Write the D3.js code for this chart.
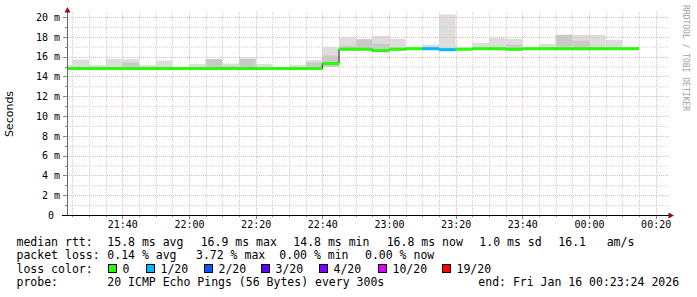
<!DOCTYPE html>
<html>
<head>
<meta charset="utf-8">
<script src="https://cdn.jsdelivr.net/npm/d3@7"></script>
<style>
body { margin: 0; background: #fff; }
text { font-family: "DejaVu Sans Mono", monospace; }
</style>
</head>
<body>
<div id="vis"></div>
<script>
/* 5 minute slots (start time) */
var slots = ["21:20","21:25","21:30","21:35","21:40","21:45","21:50","21:55",
             "22:00","22:05","22:10","22:15","22:20","22:25","22:30","22:35",
             "22:40","22:45","22:50","22:55","23:00","23:05","23:10","23:15",
             "23:20","23:25","23:30","23:35","23:40","23:45","23:50","23:55",
             "00:00","00:05","00:10"];
/* median rtt, ms */
var median = [14.8,14.8,14.8,14.8,14.8,14.8,14.8,14.8,
              14.8,14.8,14.8,14.8,14.8,14.8,14.8,14.8,
              15.3,16.75,16.75,16.6,16.75,16.8,16.8,16.7,
              16.75,16.8,16.8,16.75,16.8,16.8,16.8,16.8,
              16.8,16.8,16.8];
/* smoke: lowest, highest and dense-part top, ms (0 = no dense part) */
var smokeLo = [14.65,14.65,14.65,14.65,14.65,14.65,14.65,14.65,
               14.65,14.65,14.65,14.65,14.65,14.65,14.65,14.65,
               14.95,16.6,16.6,16.45,16.6,16.65,16.65,16.55,
               16.6,16.65,16.65,16.6,16.65,16.65,16.65,16.65,
               16.65,16.65,16.65];
var smokeHi = [15.15,15.7,15.15,15.75,15.75,15.15,15.6,14.9,
               15.25,15.75,15.3,15.8,15.25,14.95,15.15,15.65,
               16.95,17.95,17.75,18.1,17.8,16.95,17.2,20.25,
               16.9,17.4,17.9,17.8,16.9,17.3,18.2,18.2,
               18.2,17.7,16.9];
var smokeMid = [0,0,0,0,15.4,0,0,0,
                0,15.75,15.05,15.8,0,0,0,15.4,
                16.1,17.1,17.75,17.3,16.9,0,0,0,
                0,0,17.0,17.2,0,0,18.2,17.6,
                17.0,0,0];
/* loss bucket per slot */
var lossIdx = [0,0,0,0,0,0,0,0,0,0,0,0,0,0,0,0,
               0,0,0,0,0,0,1,1,0,0,0,0,0,0,0,0,0,0,0];

var lossLabels = ["0","1/20","2/20","3/20","4/20","10/20","19/20"];
var lossColors = ["#26ff00","#00b8ff","#0059ff","#5e00ff","#7e00ff","#dd00ff","#ff0000"];
var yTicks = [0,2,4,6,8,10,12,14,16,18,20];
var yMinor = [1,3,5,7,9,11,13,15,17,19];

var rttStats = ["15.8 ms avg","16.9 ms max","14.8 ms min","16.8 ms now","1.0 ms sd","16.1","am/s"];
var lossStats = ["0.14 % avg","3.72 % max","0.00 % min","0.00 % now"];
var probeText = "20 ICMP Echo Pings (56 Bytes) every 300s";
var endText = "end: Fri Jan 16 00:23:24 2026";

var W = 697, H = 297;
var t0 = new Date(2026, 0, 15, 21, 23, 24),
    t1 = new Date(2026, 0, 16, 0, 23, 24);

function parseSlot(s) {
    var p = s.split(":").map(Number);
    return p[0] < 12 ? new Date(2026, 0, 16, p[0], p[1]) : new Date(2026, 0, 15, p[0], p[1]);
}
var data = slots.map(function (s, i) {
    var a = parseSlot(s);
    return { t: a, t2: new Date(+a + 300000), med: median[i], lo: smokeLo[i],
             hi: smokeHi[i], mid: smokeMid[i], loss: lossIdx[i] };
});

var x = d3.scaleTime().domain([t0, t1]).range([67, 667]);
var y = d3.scaleLinear().domain([0, 20]).range([215, 17]);

var svg = d3.select("#vis").append("svg").attr("width", W).attr("height", H);

svg.append("defs").append("clipPath").attr("id", "plot")
    .append("rect").attr("x", 67).attr("y", 10).attr("width", 600).attr("height", 206);

/* smoke */
var smoke = svg.append("g").attr("clip-path", "url(#plot)");
smoke.selectAll("rect.light").data(data).enter().append("rect")
    .attr("x", function (d) { return x(d.t); })
    .attr("width", function (d) { return x(d.t2) - x(d.t); })
    .attr("y", function (d) { return y(d.hi); })
    .attr("height", function (d) { return y(d.lo) - y(d.hi); })
    .attr("fill", "#dddddd");
smoke.selectAll("rect.dark").data(data.filter(function (d) { return d.mid > 0; })).enter().append("rect")
    .attr("x", function (d) { return x(d.t); })
    .attr("width", function (d) { return x(d.t2) - x(d.t); })
    .attr("y", function (d) { return y(d.mid); })
    .attr("height", function (d) { return y(d.lo) - y(d.mid); })
    .attr("fill", "#c9c9c9");

/* grid */
var grid = svg.append("g").attr("fill", "none");
var xMajor = x.ticks(d3.timeMinute.every(20));
var xMinor = x.ticks(d3.timeMinute.every(5)).filter(function (d) { return d.getMinutes() % 20 !== 0; });
grid.selectAll("line.hmin").data(yMinor).enter().append("line")
    .attr("x1", 67).attr("x2", 669).attr("y1", function (d) { return y(d) + 0.5; }).attr("y2", function (d) { return y(d) + 0.5; })
    .attr("stroke", "#d2d2d2").attr("stroke-dasharray", "1,1");
grid.selectAll("line.vmin").data(xMinor).enter().append("line")
    .attr("x1", function (d) { return Math.round(x(d)) + 0.5; }).attr("x2", function (d) { return Math.round(x(d)) + 0.5; })
    .attr("y1", 12).attr("y2", 215)
    .attr("stroke", "#d2d2d2").attr("stroke-dasharray", "1,1");
grid.selectAll("line.hmaj").data(yTicks.slice(1)).enter().append("line")
    .attr("x1", 67).attr("x2", 669).attr("y1", function (d) { return Math.round(y(d)) + 0.5; }).attr("y2", function (d) { return Math.round(y(d)) + 0.5; })
    .attr("stroke", "#ecb8b8").attr("stroke-dasharray", "1,1");
grid.selectAll("line.vmaj").data(xMajor).enter().append("line")
    .attr("x1", function (d) { return Math.round(x(d)) + 0.5; }).attr("x2", function (d) { return Math.round(x(d)) + 0.5; })
    .attr("y1", 12).attr("y2", 215)
    .attr("stroke", "#ecb8b8").attr("stroke-dasharray", "1,1");

/* median: thin dark step line, then loss coloured segments */
var clipG = svg.append("g").attr("clip-path", "url(#plot)");
clipG.append("path").datum(data.concat([{ t: data[data.length - 1].t2, med: data[data.length - 1].med }]))
    .attr("d", d3.line().curve(d3.curveStepAfter).x(function (d) { return x(d.t); }).y(function (d) { return y(d.med); }))
    .attr("fill", "none").attr("stroke", "#202020").attr("stroke-width", 1);
clipG.selectAll("line.med").data(data).enter().append("line")
    .attr("x1", function (d) { return x(d.t); })
    .attr("x2", function (d) { return x(d.t2); })
    .attr("y1", function (d) { return y(d.med); })
    .attr("y2", function (d) { return y(d.med); })
    .attr("stroke", function (d) { return lossColors[d.loss]; })
    .attr("stroke-width", 3);

/* axes */
var yAxis = svg.append("g").attr("transform", "translate(67,0)")
    .call(d3.axisLeft(y).tickValues(yTicks).tickSize(0).tickPadding(7)
        .tickFormat(function (d) { return d === 0 ? "0" : d + " m"; }));
yAxis.select(".domain").remove();
yAxis.selectAll("text").attr("font-family", "DejaVu Sans Mono").attr("font-size", "10px").attr("fill", "#000");
yAxis.selectAll(".tick").filter(function (d) { return d === 0; }).select("text").attr("x", -13);

var xAxis = svg.append("g").attr("transform", "translate(0,215)")
    .call(d3.axisBottom(x).tickValues(xMajor).tickSize(0).tickPadding(6).tickFormat(d3.timeFormat("%H:%M")));
xAxis.select(".domain").remove();
xAxis.selectAll("text").attr("font-family", "DejaVu Sans Mono").attr("font-size", "10px").attr("fill", "#000");

/* tick marks */
svg.selectAll("line.xt").data(xMinor.concat(xMajor)).enter().append("line")
    .attr("x1", function (d) { return Math.round(x(d)) + 0.5; }).attr("x2", function (d) { return Math.round(x(d)) + 0.5; })
    .attr("y1", 215).attr("y2", function (d) { return d.getMinutes() % 20 === 0 ? 219 : 217; })
    .attr("stroke", "#888");
svg.selectAll("line.yt").data(yTicks.concat(yMinor)).enter().append("line")
    .attr("x1", function (d) { return d % 2 === 0 ? 63 : 65; }).attr("x2", 67)
    .attr("y1", function (d) { return Math.round(y(d)) + 0.5; }).attr("y2", function (d) { return Math.round(y(d)) + 0.5; })
    .attr("stroke", "#888");

/* axis lines + arrows */
svg.append("line").attr("x1", 67.5).attr("x2", 67.5).attr("y1", 11).attr("y2", 215).attr("stroke", "#666");
svg.append("line").attr("x1", 62).attr("x2", 669).attr("y1", 215.5).attr("y2", 215.5).attr("stroke", "#000");
svg.append("path").attr("d", "M64.5,12.5 L67.5,7 L70.5,12.5 Z").attr("fill", "#8b1010");
svg.append("path").attr("d", "M668.5,212.5 L674,215.5 L668.5,218.5 Z").attr("fill", "#8b1010");

/* titles */
svg.append("text").attr("transform", "translate(13,114) rotate(-90)")
    .attr("text-anchor", "middle").style("font-family", "DejaVu Sans").attr("font-size", "11px").text("Seconds");
svg.append("text").attr("transform", "translate(683,5) rotate(90)")
    .attr("font-size", "8px").attr("fill", "#a0a0a0").text("RRDTOOL / TOBI OETIKER");

/* legend */
var leg = svg.append("g").attr("font-size", "11.5px").attr("fill", "#000");
var rowY = [245.5, 259, 272.5, 286];
leg.append("text").attr("x", 16.5).attr("y", rowY[0]).text("median rtt:");
leg.append("text").attr("x", 16.5).attr("y", rowY[1]).text("packet loss:");
leg.append("text").attr("x", 16.5).attr("y", rowY[2]).text("loss color:");
leg.append("text").attr("x", 16.5).attr("y", rowY[3]).text("probe:");

var rttX = [107.3, 200.7, 293.3, 386.7, 479.3, 558.3, 606.7];
leg.selectAll("text.rtt").data(rttStats).enter().append("text")
    .attr("x", function (d, i) { return rttX[i]; }).attr("y", rowY[0]).text(function (d) { return d; });
var lossX = [107.3, 196, 279.3, 365];
leg.selectAll("text.loss").data(lossStats).enter().append("text")
    .attr("x", function (d, i) { return lossX[i]; }).attr("y", rowY[1]).text(function (d) { return d; });

var swX = [108.5, 146.5, 204.5, 261.5, 319.5, 378.5, 442.5];
leg.selectAll("rect.sw").data(lossColors).enter().append("rect")
    .attr("x", function (d, i) { return swX[i]; }).attr("y", 264.5)
    .attr("width", 8).attr("height", 8)
    .attr("fill", function (d) { return d; }).attr("stroke", "#000").attr("stroke-width", 1);
leg.selectAll("text.sw").data(lossLabels).enter().append("text")
    .attr("x", function (d, i) { return swX[i] + 14; }).attr("y", rowY[2]).text(function (d) { return d; });

leg.append("text").attr("x", 107.3).attr("y", rowY[3]).text(probeText);
leg.append("text").attr("x", 478.3).attr("y", rowY[3]).text(endText);
</script>
</body>
</html>
